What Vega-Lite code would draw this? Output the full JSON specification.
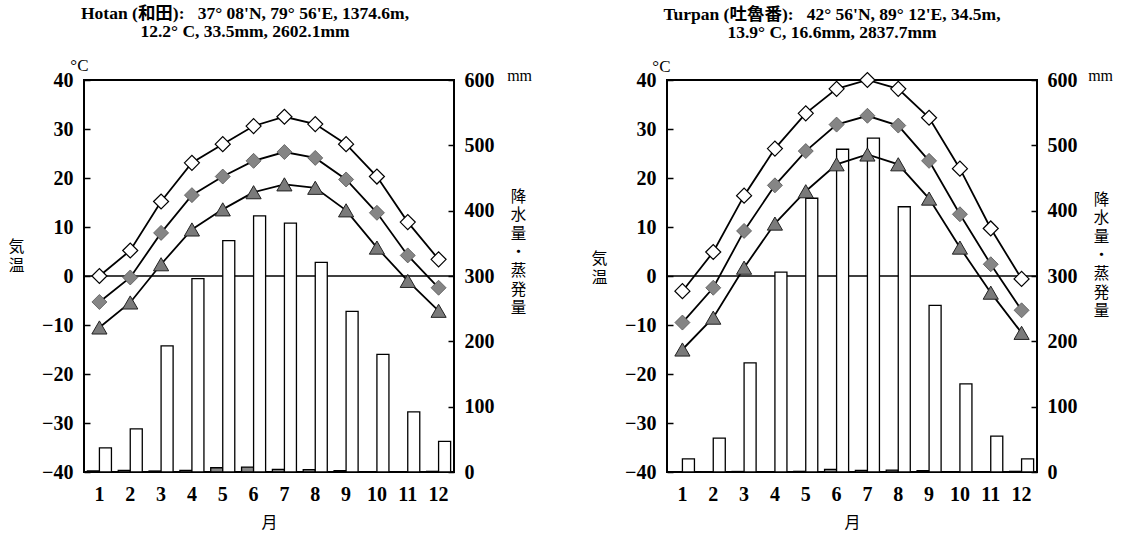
{
  "$schema": "https://vega.github.io/schema/vega-lite/v6.json",
  "background": "white",
  "padding": {"left": 6, "top": 3, "right": 0, "bottom": 0},
  "spacing": 55,
  "datasets": {
    "hotan": [
      {"month": 1, "tmax": 0.0, "tmean": -5.3, "tmin": -10.5, "evap": 37, "precip": 1.5},
      {"month": 2, "tmax": 5.2, "tmean": -0.3, "tmin": -5.4, "evap": 66, "precip": 2.5},
      {"month": 3, "tmax": 15.2, "tmean": 8.8, "tmin": 2.4, "evap": 193, "precip": 1.5},
      {"month": 4, "tmax": 23.1, "tmean": 16.5, "tmin": 9.5, "evap": 296, "precip": 2.5},
      {"month": 5, "tmax": 26.9, "tmean": 20.3, "tmin": 13.6, "evap": 354, "precip": 6.5},
      {"month": 6, "tmax": 30.6, "tmean": 23.5, "tmin": 17.1, "evap": 392, "precip": 7.5},
      {"month": 7, "tmax": 32.5, "tmean": 25.3, "tmin": 18.7, "evap": 381, "precip": 4},
      {"month": 8, "tmax": 31.0, "tmean": 24.1, "tmin": 18.0, "evap": 321, "precip": 3.5},
      {"month": 9, "tmax": 26.9, "tmean": 19.7, "tmin": 13.4, "evap": 246, "precip": 2},
      {"month": 10, "tmax": 20.3, "tmean": 12.9, "tmin": 5.8, "evap": 180, "precip": 0.5},
      {"month": 11, "tmax": 11.0, "tmean": 4.2, "tmin": -1.0, "evap": 92, "precip": 0.5},
      {"month": 12, "tmax": 3.4, "tmean": -2.4, "tmin": -7.1, "evap": 47, "precip": 1}
    ],
    "turpan": [
      {"month": 1, "tmax": -3.1, "tmean": -9.5, "tmin": -15.0, "evap": 20, "precip": 0.5},
      {"month": 2, "tmax": 4.9, "tmean": -2.4, "tmin": -8.5, "evap": 52, "precip": 0.3},
      {"month": 3, "tmax": 16.4, "tmean": 9.2, "tmin": 1.7, "evap": 167, "precip": 0.8},
      {"month": 4, "tmax": 26.0, "tmean": 18.5, "tmin": 10.7, "evap": 306, "precip": 0.5},
      {"month": 5, "tmax": 33.2, "tmean": 25.5, "tmin": 17.3, "evap": 419, "precip": 1},
      {"month": 6, "tmax": 38.2, "tmean": 30.9, "tmin": 22.8, "evap": 494, "precip": 4},
      {"month": 7, "tmax": 40.0, "tmean": 32.7, "tmin": 24.8, "evap": 511, "precip": 2.5},
      {"month": 8, "tmax": 38.2, "tmean": 30.7, "tmin": 22.8, "evap": 406, "precip": 3},
      {"month": 9, "tmax": 32.3, "tmean": 23.5, "tmin": 15.8, "evap": 255, "precip": 2},
      {"month": 10, "tmax": 21.9, "tmean": 12.6, "tmin": 5.8, "evap": 135, "precip": 0.5},
      {"month": 11, "tmax": 9.7, "tmean": 2.4, "tmin": -3.4, "evap": 55, "precip": 0.5},
      {"month": 12, "tmax": -0.6, "tmean": -7.0, "tmin": -11.6, "evap": 20, "precip": 1}
    ]
  },
  "hconcat": [
    {
      "title": {"text": ["Hotan (和田):\u00a0\u00a0 37° 08'N, 79° 56'E, 1374.6m,", "12.2° C, 33.5mm, 2602.1mm"], "font": "Liberation Serif, Noto Sans CJK JP", "fontSize": 17.5, "fontWeight": "bold", "lineHeight": 18, "anchor": "middle", "offset": 17, "dx": -24, "color": "black"},
      "width": 370,
      "height": 392,
      "data": {"name": "hotan"},
      "layer": [
        {"mark": {"type": "rule", "color": "black", "strokeWidth": 1.5},
         "data": {"values": [{"z": 0}]},
         "encoding": {"y": {"field": "z", "type": "quantitative", "scale": {"domain": [-40, 40], "nice": false}, "axis": null}}},
        {"encoding": {
          "x": {"field": "month", "type": "ordinal", "scale": {"domain": [1,2,3,4,5,6,7,8,9,10,11,12], "paddingInner": 0.22, "paddingOuter": 0.11},
            "axis": {"title": "月", "titleFont": "Noto Sans CJK JP", "titleFontSize": 16, "titleFontWeight": "normal", "titlePadding": 10, "titleColor": "black", "labelFont": "Liberation Serif", "labelFontSize": 20, "labelFontWeight": "bold", "labelColor": "black", "labelAngle": 0, "labelPadding": 12, "ticks": false, "domain": false, "grid": false}}
         },
         "layer": [
          {"transform": [{"fold": ["precip", "evap"], "as": ["kind", "mm"]}],
           "mark": {"type": "bar", "stroke": "black", "strokeWidth": 1.3},
           "encoding": {
             "xOffset": {"field": "kind", "type": "nominal", "scale": {"domain": ["precip", "evap"], "paddingInner": 0}},
             "y": {"field": "mm", "type": "quantitative", "scale": {"domain": [0, 600], "nice": false},
               "axis": {"orient": "right", "values": [0,100,200,300,400,500,600], "tickSize": -6, "tickWidth": 1.5, "tickColor": "black", "grid": false, "domain": false, "labelFont": "Liberation Serif", "labelFontSize": 20, "labelFontWeight": "bold", "labelPadding": 16, "labelColor": "black",
                 "title": ["降","水","量","・","蒸","発","量"], "titleAngle": 360, "titleAlign": "center", "titleBaseline": "top", "titleX": 64, "titleY": 109, "titleFont": "Noto Sans CJK JP", "titleFontSize": 15.5, "titleFontWeight": "normal", "titleLineHeight": 18.6, "titleColor": "black"}},
             "fill": {"field": "kind", "type": "nominal", "scale": {"domain": ["precip", "evap"], "range": ["#8a8a8a", "white"]}, "legend": null}
           }},
          {"data": {"values": [{"t": "mm"}]},
           "mark": {"type": "text", "font": "Liberation Serif", "fontSize": 16, "align": "center", "baseline": "alphabetic", "dx": 81, "dy": 1, "color": "black"},
           "encoding": {"x": {"datum": 12, "type": "ordinal"}, "y": {"datum": 600, "type": "quantitative"}, "text": {"field": "t"}}}
        ]},
        {"encoding": {
          "x": {"field": "month", "type": "ordinal", "scale": {"domain": [1,2,3,4,5,6,7,8,9,10,11,12], "paddingInner": 0.22, "paddingOuter": 0.11},
            "axis": {"title": "月", "titleFont": "Noto Sans CJK JP", "titleFontSize": 16, "titleFontWeight": "normal", "titlePadding": 10, "titleColor": "black", "labelFont": "Liberation Serif", "labelFontSize": 20, "labelFontWeight": "bold", "labelColor": "black", "labelAngle": 0, "labelPadding": 12, "ticks": false, "domain": false, "grid": false}}
         },
         "layer": [
          {"mark": {"type": "line", "color": "black", "strokeWidth": 1.8},
           "encoding": {"y": {"field": "tmax", "type": "quantitative", "scale": {"domain": [-40, 40], "nice": false},
             "axis": {"orient": "left", "values": [-40,-30,-20,-10,0,10,20,30,40], "tickSize": -6, "tickWidth": 1.5, "tickColor": "black", "grid": false, "domain": false, "labelFont": "Liberation Serif", "labelFontSize": 20, "labelFontWeight": "bold", "labelPadding": 17, "labelColor": "black",
               "title": ["気","温"], "titleAngle": 360, "titleAlign": "center", "titleBaseline": "top", "titleX": -68, "titleY": 158, "titleFont": "Noto Sans CJK JP", "titleFontSize": 16, "titleFontWeight": "normal", "titleLineHeight": 19, "titleColor": "black"}}}},
          {"mark": {"type": "line", "color": "black", "strokeWidth": 1.8},
           "encoding": {"y": {"field": "tmean", "type": "quantitative"}}},
          {"mark": {"type": "line", "color": "black", "strokeWidth": 1.8},
           "encoding": {"y": {"field": "tmin", "type": "quantitative"}}},
          {"mark": {"type": "point", "shape": "diamond", "size": 225, "filled": true, "fill": "white", "stroke": "black", "strokeWidth": 1.2, "opacity": 1},
           "encoding": {"y": {"field": "tmax", "type": "quantitative"}}},
          {"mark": {"type": "point", "shape": "diamond", "size": 225, "filled": true, "fill": "#858585", "stroke": "#555555", "strokeWidth": 0.8, "opacity": 1},
           "encoding": {"y": {"field": "tmean", "type": "quantitative"}}},
          {"mark": {"type": "point", "shape": "triangle-up", "size": 230, "filled": true, "fill": "#7a7a7a", "stroke": "#222222", "strokeWidth": 1, "opacity": 1},
           "encoding": {"y": {"field": "tmin", "type": "quantitative"}}},
          {"data": {"values": [{"t": "°C"}]},
           "mark": {"type": "text", "font": "Liberation Serif", "fontSize": 17, "align": "center", "baseline": "middle", "dx": -20, "dy": -14, "color": "black"},
           "encoding": {"x": {"datum": 1, "type": "ordinal"}, "y": {"datum": 40, "type": "quantitative"}, "text": {"field": "t"}}}
        ]}
      ],
      "resolve": {"scale": {"y": "independent"}}
    },
    {
      "title": {"text": ["Turpan (吐魯番):\u00a0\u00a0 42° 56'N, 89° 12'E, 34.5m,", "13.9° C, 16.6mm, 2837.7mm"], "font": "Liberation Serif, Noto Sans CJK JP", "fontSize": 17.5, "fontWeight": "bold", "lineHeight": 18, "anchor": "middle", "offset": 17, "dx": -20, "color": "black"},
      "width": 370,
      "height": 392,
      "data": {"name": "turpan"},
      "layer": [
        {"mark": {"type": "rule", "color": "black", "strokeWidth": 1.5},
         "data": {"values": [{"z": 0}]},
         "encoding": {"y": {"field": "z", "type": "quantitative", "scale": {"domain": [-40, 40], "nice": false}, "axis": null}}},
        {"encoding": {
          "x": {"field": "month", "type": "ordinal", "scale": {"domain": [1,2,3,4,5,6,7,8,9,10,11,12], "paddingInner": 0.22, "paddingOuter": 0.11},
            "axis": {"title": "月", "titleFont": "Noto Sans CJK JP", "titleFontSize": 16, "titleFontWeight": "normal", "titlePadding": 10, "titleColor": "black", "labelFont": "Liberation Serif", "labelFontSize": 20, "labelFontWeight": "bold", "labelColor": "black", "labelAngle": 0, "labelPadding": 12, "ticks": false, "domain": false, "grid": false}}
         },
         "layer": [
          {"transform": [{"fold": ["precip", "evap"], "as": ["kind", "mm"]}],
           "mark": {"type": "bar", "stroke": "black", "strokeWidth": 1.3},
           "encoding": {
             "xOffset": {"field": "kind", "type": "nominal", "scale": {"domain": ["precip", "evap"], "paddingInner": 0}},
             "y": {"field": "mm", "type": "quantitative", "scale": {"domain": [0, 600], "nice": false},
               "axis": {"orient": "right", "values": [0,100,200,300,400,500,600], "tickSize": -6, "tickWidth": 1.5, "tickColor": "black", "grid": false, "domain": false, "labelFont": "Liberation Serif", "labelFontSize": 20, "labelFontWeight": "bold", "labelPadding": 16, "labelColor": "black",
                 "title": ["降","水","量","・","蒸","発","量"], "titleAngle": 360, "titleAlign": "center", "titleBaseline": "top", "titleX": 64, "titleY": 112, "titleFont": "Noto Sans CJK JP", "titleFontSize": 15.5, "titleFontWeight": "normal", "titleLineHeight": 18.6, "titleColor": "black"}},
             "fill": {"field": "kind", "type": "nominal", "scale": {"domain": ["precip", "evap"], "range": ["#8a8a8a", "white"]}, "legend": null}
           }},
          {"data": {"values": [{"t": "mm"}]},
           "mark": {"type": "text", "font": "Liberation Serif", "fontSize": 16, "align": "center", "baseline": "alphabetic", "dx": 79, "dy": 1, "color": "black"},
           "encoding": {"x": {"datum": 12, "type": "ordinal"}, "y": {"datum": 600, "type": "quantitative"}, "text": {"field": "t"}}}
        ]},
        {"encoding": {
          "x": {"field": "month", "type": "ordinal", "scale": {"domain": [1,2,3,4,5,6,7,8,9,10,11,12], "paddingInner": 0.22, "paddingOuter": 0.11},
            "axis": {"title": "月", "titleFont": "Noto Sans CJK JP", "titleFontSize": 16, "titleFontWeight": "normal", "titlePadding": 10, "titleColor": "black", "labelFont": "Liberation Serif", "labelFontSize": 20, "labelFontWeight": "bold", "labelColor": "black", "labelAngle": 0, "labelPadding": 12, "ticks": false, "domain": false, "grid": false}}
         },
         "layer": [
          {"mark": {"type": "line", "color": "black", "strokeWidth": 1.8},
           "encoding": {"y": {"field": "tmax", "type": "quantitative", "scale": {"domain": [-40, 40], "nice": false},
             "axis": {"orient": "left", "values": [-40,-30,-20,-10,0,10,20,30,40], "tickSize": -6, "tickWidth": 1.5, "tickColor": "black", "grid": false, "domain": false, "labelFont": "Liberation Serif", "labelFontSize": 20, "labelFontWeight": "bold", "labelPadding": 17, "labelColor": "black",
               "title": ["気","温"], "titleAngle": 360, "titleAlign": "center", "titleBaseline": "top", "titleX": -68, "titleY": 170, "titleFont": "Noto Sans CJK JP", "titleFontSize": 16, "titleFontWeight": "normal", "titleLineHeight": 19, "titleColor": "black"}}}},
          {"mark": {"type": "line", "color": "black", "strokeWidth": 1.8},
           "encoding": {"y": {"field": "tmean", "type": "quantitative"}}},
          {"mark": {"type": "line", "color": "black", "strokeWidth": 1.8},
           "encoding": {"y": {"field": "tmin", "type": "quantitative"}}},
          {"mark": {"type": "point", "shape": "diamond", "size": 225, "filled": true, "fill": "white", "stroke": "black", "strokeWidth": 1.2, "opacity": 1},
           "encoding": {"y": {"field": "tmax", "type": "quantitative"}}},
          {"mark": {"type": "point", "shape": "diamond", "size": 225, "filled": true, "fill": "#858585", "stroke": "#555555", "strokeWidth": 0.8, "opacity": 1},
           "encoding": {"y": {"field": "tmean", "type": "quantitative"}}},
          {"mark": {"type": "point", "shape": "triangle-up", "size": 230, "filled": true, "fill": "#7a7a7a", "stroke": "#222222", "strokeWidth": 1, "opacity": 1},
           "encoding": {"y": {"field": "tmin", "type": "quantitative"}}},
          {"data": {"values": [{"t": "°C"}]},
           "mark": {"type": "text", "font": "Liberation Serif", "fontSize": 17, "align": "center", "baseline": "middle", "dx": -21, "dy": -13, "color": "black"},
           "encoding": {"x": {"datum": 1, "type": "ordinal"}, "y": {"datum": 40, "type": "quantitative"}, "text": {"field": "t"}}}
        ]}
      ],
      "resolve": {"scale": {"y": "independent"}}
    }
  ],
  "config": {
    "view": {"stroke": "black", "strokeWidth": 2},
    "axis": {"grid": false, "domain": false}
  }
}
